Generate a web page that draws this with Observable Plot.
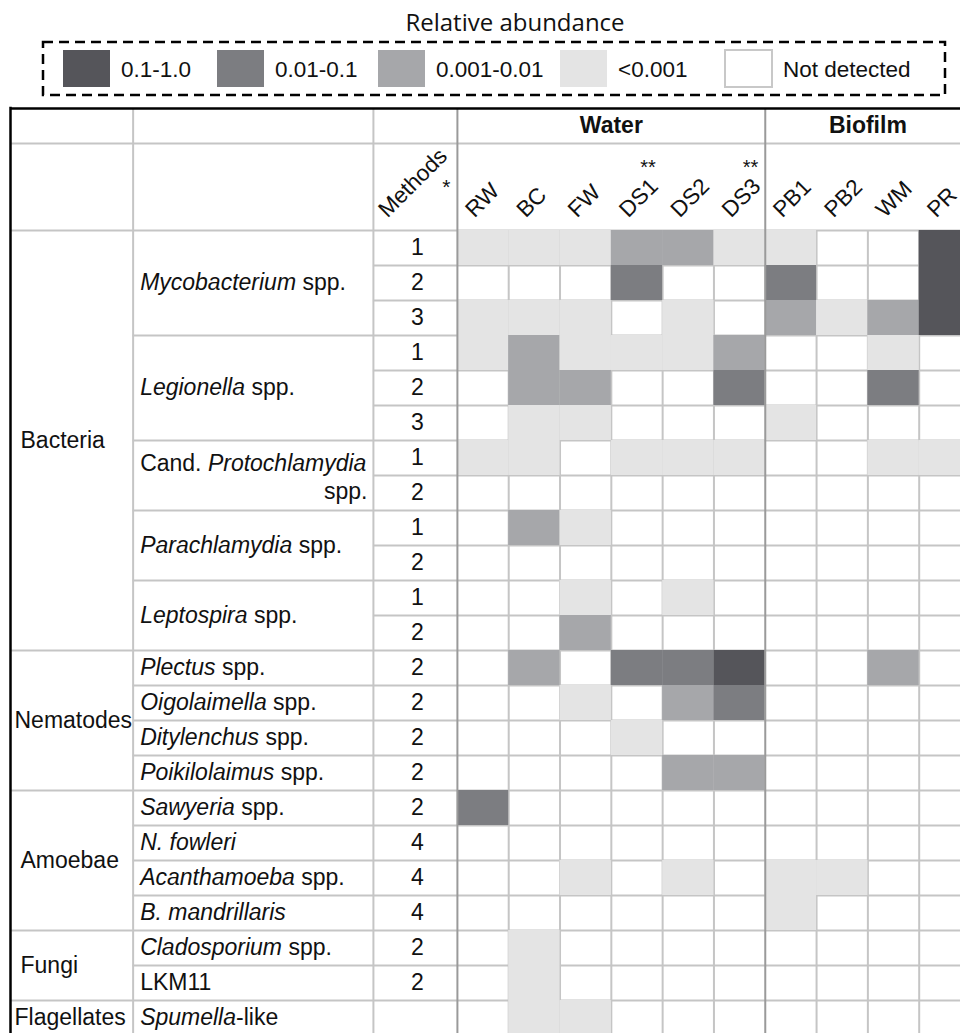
<!DOCTYPE html>
<html><head><meta charset="utf-8">
<script src="https://cdn.jsdelivr.net/npm/d3@7"></script>
<script src="https://cdn.jsdelivr.net/npm/@observablehq/plot@0.6"></script>
<style>
body{margin:0;background:#fff;overflow:hidden;font-family:"Liberation Sans",Arial,sans-serif;}
#legend{width:960px;height:100px;}
#legend svg, #chart svg{display:block;}
</style></head><body>
<div id="legend"></div>
<div id="chart"></div>
<script>
// ---------- data ----------
const samples = ["RW","BC","FW","DS1","DS2","DS3","PB1","PB2","WM","PR"];
const sampleNotes = ["","","","**","","**","","","",""];
const habitats = ["Water","Biofilm"];
const habitatSampleCounts = [6,4];
const groups = ["Bacteria","Nematodes","Amoebae","Fungi","Flagellates"];
const groupRowCounts = [12,4,4,2,1];
const speciesLabels = ["Mycobacterium spp.","Legionella spp.","Cand. Protochlamydia\nspp.","Parachlamydia spp.","Leptospira spp.","Plectus spp.","Oigolaimella spp.","Ditylenchus spp.","Poikilolaimus spp.","Sawyeria spp.","N. fowleri","Acanthamoeba spp.","B. mandrillaris","Cladosporium spp.","LKM11","Spumella-like"];
const speciesItalic = ["Mycobacterium","Legionella","Protochlamydia","Parachlamydia","Leptospira","Plectus","Oigolaimella","Ditylenchus","Poikilolaimus","Sawyeria","N. fowleri","Acanthamoeba","B. mandrillaris","Cladosporium","","Spumella"];
const speciesRowCounts = [3,3,2,2,2,1,1,1,1,1,1,1,1,1,1,1];
const methods = ["1","2","3","1","2","3","1","2","1","2","1","2","2","2","2","2","2","4","4","4","2","2",""];
const levelLabels = ["Not detected","<0.001","0.001-0.01","0.01-0.1","0.1-1.0"];
const levelColors = ["#ffffff","#e4e4e4","#a6a7aa","#7c7d81","#55555a"];
// abundance level per row (index into levelLabels), columns follow `samples`
const abundance = [
 [1,1,1,2,2,1,1,0,0,4],
 [0,0,0,3,0,0,3,0,0,4],
 [1,1,1,0,1,0,2,1,2,4],
 [1,2,1,1,1,2,0,0,1,0],
 [0,2,2,0,0,3,0,0,3,0],
 [0,1,1,0,0,0,1,0,0,0],
 [1,1,0,1,1,1,0,0,1,1],
 [0,0,0,0,0,0,0,0,0,0],
 [0,2,1,0,0,0,0,0,0,0],
 [0,0,0,0,0,0,0,0,0,0],
 [0,0,1,0,1,0,0,0,0,0],
 [0,0,2,0,0,0,0,0,0,0],
 [0,2,0,3,3,4,0,0,2,0],
 [0,0,1,0,2,3,0,0,0,0],
 [0,0,0,1,0,0,0,0,0,0],
 [0,0,0,0,2,2,0,0,0,0],
 [3,0,0,0,0,0,0,0,0,0],
 [0,0,0,0,0,0,0,0,0,0],
 [0,0,1,0,1,0,1,1,0,0],
 [0,0,0,0,0,0,1,0,0,0],
 [0,1,0,0,0,0,0,0,0,0],
 [0,1,0,0,0,0,0,0,0,0],
 [0,1,1,0,0,0,0,0,0,0]
];

// ---------- layout (units: 1 data column / 1 data row) ----------
const TABLE_LEFT = -8.71, SPECIES_LEFT = -6.32, METHODS_LEFT = -1.637, RIGHT = samples.length;
const HEADER_TOP = -3.4857, HEADER_MID = -2.4857;
const NROWS = abundance.length;
const GRID = "#c5c5c5", DIVIDER = "#9a9a9a";
const FONT = "'Liberation Sans', Arial, sans-serif";

// ---------- legend ----------
const lg = d3.select("#legend").append("svg").attr("width", 960).attr("height", 100);
lg.append("text").attr("x", 515).attr("y", 31).attr("text-anchor", "middle")
  .style("font-family", "'Open Sans', sans-serif").style("font-size", "24px").attr("fill", "#111")
  .text("Relative abundance");
lg.append("rect").attr("x", 43).attr("y", 42).attr("width", 902).attr("height", 53)
  .attr("fill", "none").attr("stroke", "#000").attr("stroke-width", 2.5).attr("stroke-dasharray", "10,6");
const legendX = [63, 217, 378, 560, 725];
[4,3,2,1,0].forEach((lv, i) => {
  lg.append("rect").attr("x", legendX[i]).attr("y", 50).attr("width", 47).attr("height", 37)
    .attr("fill", levelColors[lv]).attr("stroke", lv === 0 ? "#c8c8c8" : "none").attr("stroke-width", 2);
  lg.append("text").attr("x", legendX[i] + 58).attr("y", 69).attr("dominant-baseline", "central")
    .style("font-family", FONT).style("font-size", "22.5px").attr("fill", "#111").text(levelLabels[lv]);
});

// ---------- derived tables ----------
const cells = abundance.flatMap((row, r) => row.map((v, c) => ({r, c, level: levelLabels[v], v}))).filter(d => d.v > 0);
const cum = arr => arr.reduce((a, n) => (a.push(a[a.length - 1] + n), a), [0]);
const groupStarts = cum(groupRowCounts);
const speciesStarts = cum(speciesRowCounts);
const habitatStarts = cum(habitatSampleCounts);
const groupBounds = new Set(groupStarts);
const speciesBounds = new Set(speciesStarts);

const hLines = d3.range(0, NROWS + 1).map(b => ({
  y: b, x1: groupBounds.has(b) ? TABLE_LEFT : speciesBounds.has(b) ? SPECIES_LEFT : METHODS_LEFT, x2: RIGHT
})).concat([{y: HEADER_MID, x1: TABLE_LEFT, x2: RIGHT}]);
const innerV = d3.range(1, samples.length).filter(c => !habitatStarts.includes(c)).map(c => ({x: c, y1: 0, y2: NROWS}));
const textV = [SPECIES_LEFT, METHODS_LEFT].map(x => ({x, y1: HEADER_TOP, y2: NROWS}));
const dividers = habitatStarts.slice(0, -1).map(x => ({x, y1: HEADER_TOP, y2: NROWS}));

const groupText = groups.map((g, i) => ({text: g, y: groupStarts[i] + groupRowCounts[i] / 2}));
const speciesText = [];
speciesLabels.forEach((s, i) => {
  const y = speciesStarts[i] + speciesRowCounts[i] / 2;
  const lines = s.split("\n");
  if (lines.length === 1) speciesText.push({text: s, y, kind: "single"});
  else {
    speciesText.push({text: lines[0], y, kind: "first"});
    speciesText.push({text: lines[1], y, kind: "second"});
  }
});
const methodText = methods.map((m, r) => ({text: m, y: r + 0.5}));
const sampleText = samples.map((s, c) => ({text: s, x: c, note: sampleNotes[c]}));
const habitatText = habitats.map((h, i) => ({text: h, x: (habitatStarts[i] + habitatStarts[i + 1]) / 2}));
const longGroup = d => d.text.length >= 9;

const chart = Plot.plot({
  width: 960, height: 933,
  marginTop: 0, marginRight: 0, marginBottom: 0, marginLeft: 0,
  x: {domain: [TABLE_LEFT, RIGHT], range: [10, 970], axis: null},
  y: {domain: [HEADER_TOP, NROWS], range: [8, 8 + (NROWS - HEADER_TOP) * 35], axis: null},
  color: {type: "ordinal", domain: levelLabels, range: levelColors},
  style: {fontFamily: FONT, background: "white", color: "#111"},
  marks: [
    Plot.ruleY(hLines, {y: "y", x1: "x1", x2: "x2", stroke: GRID, strokeWidth: 2}),
    Plot.ruleX(innerV, {x: "x", y1: "y1", y2: "y2", stroke: GRID, strokeWidth: 2}),
    Plot.ruleX(textV, {x: "x", y1: "y1", y2: "y2", stroke: GRID, strokeWidth: 2}),
    Plot.rect(cells, {x1: "c", x2: d => d.c + 1, y1: "r", y2: d => d.r + 1, fill: "level"}),
    Plot.ruleX(dividers, {x: "x", y1: "y1", y2: "y2", stroke: DIVIDER, strokeWidth: 2}),
    Plot.ruleX([TABLE_LEFT], {y1: HEADER_TOP - 0.035, y2: NROWS, stroke: "#000", strokeWidth: 2.5}),
    Plot.ruleY([HEADER_TOP], {x1: TABLE_LEFT, x2: RIGHT, stroke: "#000", strokeWidth: 2.5}),
    // header
    Plot.text(habitatText, {x: "x", y: (HEADER_TOP + HEADER_MID) / 2, text: "text", fontWeight: "bold", fontSize: 23}),
    Plot.text(sampleText, {x: "x", y: 0, text: "text", rotate: -45, textAnchor: "start", lineAnchor: "bottom", dx: 17, dy: -12, fontSize: 22.5}),
    Plot.text(sampleText, {x: d => d.x + 0.5, y: 0, text: "note", dx: 11, dy: -63, fontSize: 20}),
    Plot.text(["Methods"], {x: METHODS_LEFT, y: 0, text: d => d, rotate: -45, textAnchor: "start", lineAnchor: "bottom", dx: 14, dy: -12, fontSize: 22.5}),
    Plot.text(["*"], {x: 0, y: 0, text: d => d, dx: -11, dy: -43, fontSize: 21}),
    // body text
    Plot.text(methodText, {x: METHODS_LEFT / 2, y: "y", text: "text", dx: 2, fontSize: 23}),
    Plot.text(speciesText.filter(d => d.kind === "single"), {x: SPECIES_LEFT, y: "y", text: "text", textAnchor: "start", dx: 7, fontSize: 23}),
    Plot.text(speciesText.filter(d => d.kind === "first"), {x: SPECIES_LEFT, y: "y", text: "text", textAnchor: "start", dx: 7, dy: -12, fontSize: 23}),
    Plot.text(speciesText.filter(d => d.kind === "second"), {x: METHODS_LEFT, y: "y", text: "text", textAnchor: "end", dx: -6, dy: 16, fontSize: 23}),
    Plot.text(groupText.filter(d => !longGroup(d)), {x: TABLE_LEFT, y: "y", text: "text", textAnchor: "start", dx: 10, fontSize: 23}),
    Plot.text(groupText.filter(longGroup), {x: TABLE_LEFT, y: "y", text: "text", textAnchor: "start", dx: 4, fontSize: 23})
  ]
});

// italicise genus names inside the species labels
const lineToItalic = new Map();
speciesLabels.forEach((s, i) => s.split("\n").forEach(l => { if (speciesItalic[i] && l.includes(speciesItalic[i])) lineToItalic.set(l, speciesItalic[i]); }));
chart.querySelectorAll("text").forEach(el => {
  const t = el.textContent;
  if (el.querySelector("tspan") || !lineToItalic.has(t)) return;
  const it = lineToItalic.get(t);
  const k = t.indexOf(it);
  const parts = [[t.slice(0, k), false], [it, true], [t.slice(k + it.length), false]].filter(p => p[0].length);
  el.textContent = "";
  parts.forEach(([s, ital]) => {
    const ts = document.createElementNS("http://www.w3.org/2000/svg", "tspan");
    if (ital) ts.setAttribute("font-style", "italic");
    ts.textContent = s;
    el.appendChild(ts);
  });
});
document.getElementById("chart").appendChild(chart);
</script>
</body></html>
